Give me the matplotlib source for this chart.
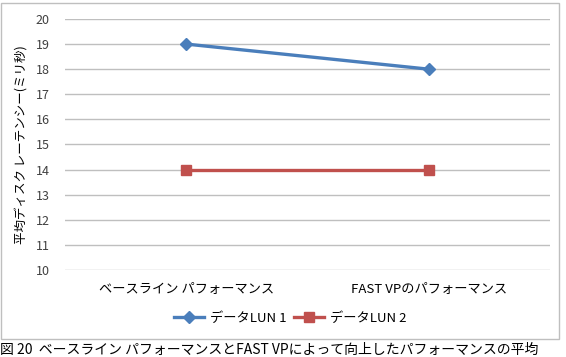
import matplotlib.pyplot as plt
from matplotlib.patches import Rectangle

plt.rcParams['font.family'] = ['Noto Sans CJK JP', 'DejaVu Sans']

categories = ['ベースライン パフォーマンス', 'FAST VPのパフォーマンス']
lun1 = [19, 18]
lun2 = [14, 14]
yticks = list(range(10, 21))

fig = plt.figure(figsize=(5.66, 3.57), dpi=100)
ax = fig.add_axes([0.115, 0.2437, 0.857, 0.7031])

ax.plot(categories, lun1, color='#4A7EBB', lw=2.4, marker='D', ms=6.5, label='データLUN 1')
ax.plot(categories, lun2, color='#C0504D', lw=2.4, marker='s', ms=7.5, label='データLUN 2')

ax.set_xlim(-0.5, 1.5)
ax.set_ylim(10, 20)
ax.set_yticks(yticks)
ax.grid(axis='y', color='#BFBFBF', lw=1)
ax.set_axisbelow(True)
for s in ax.spines.values():
    s.set_visible(False)
ax.tick_params(axis='both', length=0, labelsize=9, colors='#404040')
ax.tick_params(axis='y', pad=11)
ax.tick_params(axis='x', pad=9, labelcolor='black', labelsize=9.5)
ax.set_ylabel('平均ディスク レーテンシー(ミリ秒)', fontsize=9, labelpad=5)

fig.legend(loc='center', bbox_to_anchor=(290/566, 0.109), ncol=2, frameon=False,
           fontsize=9.5, handlelength=2.3, columnspacing=0.6, handletextpad=0.4)

fig.patches.append(Rectangle((1/566, 0.05), 558/566, 0.942, transform=fig.transFigure,
                             fill=False, edgecolor='#BFBFBF', lw=1))
fig.text(0.0, 0.0, '図 20  ベースライン パフォーマンスとFAST VPによって向上したパフォーマンスの平均',
         fontsize=10, va='bottom', ha='left')

fig.savefig('out.png', dpi=100)
